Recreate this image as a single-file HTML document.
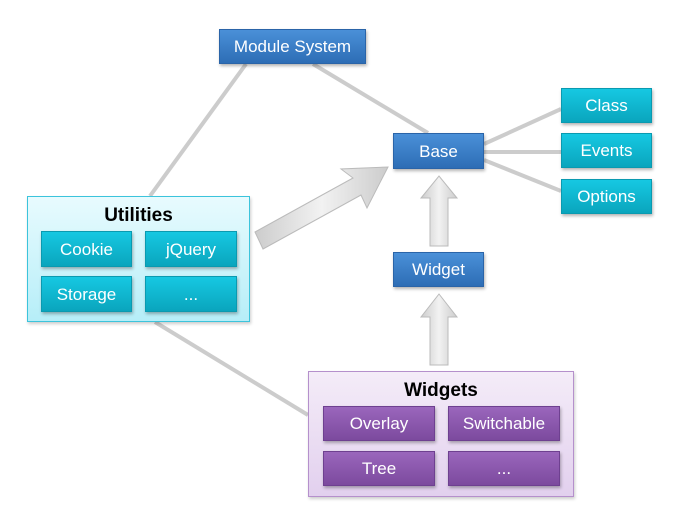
<!DOCTYPE html>
<html><head><style>
body{margin:0;width:681px;height:529px;background:#fff;position:relative;overflow:hidden;font-family:"Liberation Sans",sans-serif}
.b{position:absolute;color:#fff;font-size:17px;display:flex;align-items:center;justify-content:center;box-shadow:1px 2px 3px rgba(0,0,0,.3);box-sizing:border-box;padding-top:1px}
.blue{background:linear-gradient(#4a90d8,#2d6db5);border:1px solid #2a64a8}
.cyan{background:linear-gradient(#16c8e2,#0aa5bd);border:1px solid #0a9ab0}
.pur{background:linear-gradient(#9a66bc,#7c4a9e);border:1px solid #6e4090}
.grp{position:absolute;box-sizing:border-box;font-weight:bold;font-size:19px;text-align:center;padding-top:8px;color:#000}
</style></head><body>
<svg width="681" height="529" style="position:absolute;left:0;top:0">
<g stroke="#ccc" stroke-width="4">
<line x1="246" y1="64" x2="150" y2="196"/>
<line x1="313" y1="64" x2="428" y2="133"/>
<line x1="155" y1="322" x2="308" y2="415"/>
<line x1="484" y1="144" x2="561" y2="109"/>
<line x1="484" y1="152" x2="561" y2="152"/>
<line x1="484" y1="160" x2="561" y2="191"/>
</g>
<defs><linearGradient id="g" x1="0" x2="1"><stop offset="0" stop-color="#ccc"/><stop offset=".5" stop-color="#f2f2f2"/><stop offset="1" stop-color="#ccc"/></linearGradient></defs>
<g fill="url(#g)" stroke="#bbb" stroke-width="1">
<polygon points="430,246 448,246 448,198 457,198 439,176 421,198 430,198"/>
<polygon points="430,365 448,365 448,317 457,317 439,294 421,317 430,317"/>
<polygon points="255,232 263,249 361,195 367,208 388,167 341,169 353,178"/>
</g>
</svg>
<div class="b blue" style="left:219px;top:29px;width:147px;height:35px">Module System</div>
<div class="b blue" style="left:393px;top:133px;width:91px;height:36px">Base</div>
<div class="b blue" style="left:393px;top:252px;width:91px;height:35px">Widget</div>
<div class="b cyan" style="left:561px;top:88px;width:91px;height:35px">Class</div>
<div class="b cyan" style="left:561px;top:133px;width:91px;height:35px">Events</div>
<div class="b cyan" style="left:561px;top:179px;width:91px;height:35px">Options</div>
<div class="grp" style="left:27px;top:196px;width:223px;height:126px;background:linear-gradient(#e8fbfe,#b6eef8);border:1px solid #3cc4dc;box-shadow:1px 2px 3px rgba(0,0,0,.2)">Utilities</div>
<div class="b cyan" style="left:41px;top:231px;width:91px;height:36px">Cookie</div>
<div class="b cyan" style="left:145px;top:231px;width:92px;height:36px">jQuery</div>
<div class="b cyan" style="left:41px;top:276px;width:91px;height:36px">Storage</div>
<div class="b cyan" style="left:145px;top:276px;width:92px;height:36px">...</div>
<div class="grp" style="left:308px;top:371px;width:266px;height:126px;background:linear-gradient(#f4ecf8,#e2d0ee);border:1px solid #b590cc;box-shadow:1px 2px 3px rgba(0,0,0,.2)">Widgets</div>
<div class="b pur" style="left:323px;top:406px;width:112px;height:35px">Overlay</div>
<div class="b pur" style="left:448px;top:406px;width:112px;height:35px">Switchable</div>
<div class="b pur" style="left:323px;top:451px;width:112px;height:35px">Tree</div>
<div class="b pur" style="left:448px;top:451px;width:112px;height:35px">...</div>
</body></html>
